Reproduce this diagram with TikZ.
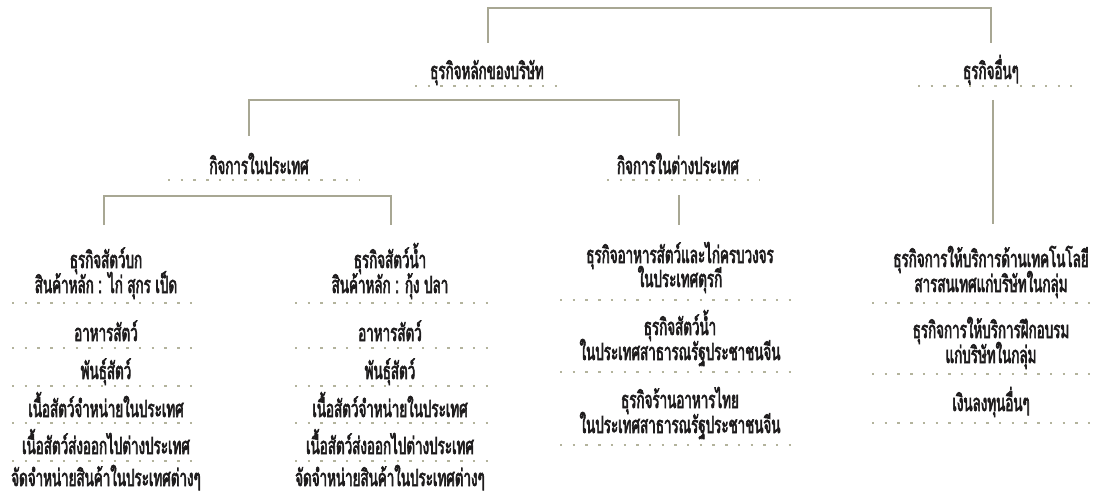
\documentclass[tikz,border=0pt]{standalone}
\usepackage{fontspec}
\newfontfamily\thaifont[Script=Thai,FakeStretch=0.57,FakeBold=2.6]{Loma}
\definecolor{linec}{HTML}{A8A793}
\definecolor{dotc}{HTML}{B3B39C}
\definecolor{txt}{HTML}{1E1C1D}
\tikzset{
  lbl/.style={anchor=base, inner sep=0pt, font=\thaifont\fontsize{23.5}{26}\selectfont, text=txt},
  conn/.style={draw=linec, line width=1.4pt},
  dotrow/.style={draw=dotc, line width=2.4pt, dash pattern=on 2.4pt off 10.3pt}
}
\begin{document}
\begin{tikzpicture}[x=1pt,y=-1pt]
\useasboundingbox (0,0) rectangle (1107,497);
% level 1
\node[lbl] (main) at (487,79) {ธุรกิจหลักของบริษัท};
\node[lbl] (other) at (991,79) {ธุรกิจอื่นๆ};
\draw[dotrow] (415,86) -- (567,86);
\draw[dotrow] (918,86) -- (1072,86);
% level 2
\node[lbl] (dom) at (259,174) {กิจการในประเทศ};
\node[lbl] (abr) at (678,174) {กิจการในต่างประเทศ};
\draw[dotrow] (168,180) -- (360,180);
\draw[dotrow] (607,180) -- (760,180);
% connector coordinates
\coordinate (t1) at (488,43); \coordinate (t2) at (991,43);
\coordinate (m1) at (249,136); \coordinate (m2) at (679,136);
\coordinate (o1) at (993,100); \coordinate (o2) at (993,224);
\coordinate (d1) at (104,225); \coordinate (d2) at (391,225);
\coordinate (a1) at (679,195); \coordinate (a2) at (679,225);
\draw[conn] (t1) -- ++(0,-35) -| (t2);
\draw[conn] (m1) -- (249,100) -| (m2);
\draw[conn] (o1) -- (o2);
\draw[conn] (d1) -- (104,196) -| (d2);
\draw[conn] (a1) -- (a2);
% column 1
\node[lbl] (c1h) at (106,268) {ธุรกิจสัตว์บก};
\node[lbl] (c1h2) at (106,293) {สินค้าหลัก : ไก่ สุกร เป็ด};
\node[lbl] (c1a) at (106,341) {อาหารสัตว์};
\node[lbl] (c1b) at (106,379) {พันธุ์สัตว์};
\node[lbl] (c1c) at (106,417) {เนื้อสัตว์จำหน่ายในประเทศ};
\node[lbl] (c1d) at (106,454) {เนื้อสัตว์ส่งออกไปต่างประเทศ};
\node[lbl] (c1e) at (106,486) {จัดจำหน่ายสินค้าในประเทศต่างๆ};
\foreach \y in {303,348,386,423,461} \draw[dotrow] (12,\y) -- (202,\y);
% column 2
\node[lbl] (c2h) at (390,268) {ธุรกิจสัตว์น้ำ};
\node[lbl] (c2h2) at (390,293) {สินค้าหลัก : กุ้ง ปลา};
\node[lbl] (c2a) at (390,341) {อาหารสัตว์};
\node[lbl] (c2b) at (390,379) {พันธุ์สัตว์};
\node[lbl] (c2c) at (390,417) {เนื้อสัตว์จำหน่ายในประเทศ};
\node[lbl] (c2d) at (390,454) {เนื้อสัตว์ส่งออกไปต่างประเทศ};
\node[lbl] (c2e) at (390,486) {จัดจำหน่ายสินค้าในประเทศต่างๆ};
\foreach \y in {303,348,386,423,461} \draw[dotrow] (295,\y) -- (488,\y);
% column 3
\node[lbl] (c3a) at (680,263) {ธุรกิจอาหารสัตว์และไก่ครบวงจร};
\node[lbl] (c3a2) at (680,287) {ในประเทศตุรกี};
\node[lbl] (c3b) at (680,335) {ธุรกิจสัตว์น้ำ};
\node[lbl] (c3b2) at (680,360) {ในประเทศสาธารณรัฐประชาชนจีน};
\node[lbl] (c3c) at (680,408) {ธุรกิจร้านอาหารไทย};
\node[lbl] (c3c2) at (680,433) {ในประเทศสาธารณรัฐประชาชนจีน};
\foreach \y in {300,372,445} \draw[dotrow] (560,\y) -- (800,\y);
% column 4
\node[lbl] (c4a) at (991,267) {ธุรกิจการให้บริการด้านเทคโนโลยี};
\node[lbl] (c4a2) at (991,292) {สารสนเทศแก่บริษัทในกลุ่ม};
\node[lbl] (c4b) at (991,338) {ธุรกิจการให้บริการฝึกอบรม};
\node[lbl] (c4b2) at (991,363) {แก่บริษัทในกลุ่ม};
\node[lbl] (c4c) at (991,411) {เงินลงทุนอื่นๆ};
\foreach \y in {303,374,423} \draw[dotrow] (872,\y) -- (1098,\y);
\end{tikzpicture}
\end{document}
